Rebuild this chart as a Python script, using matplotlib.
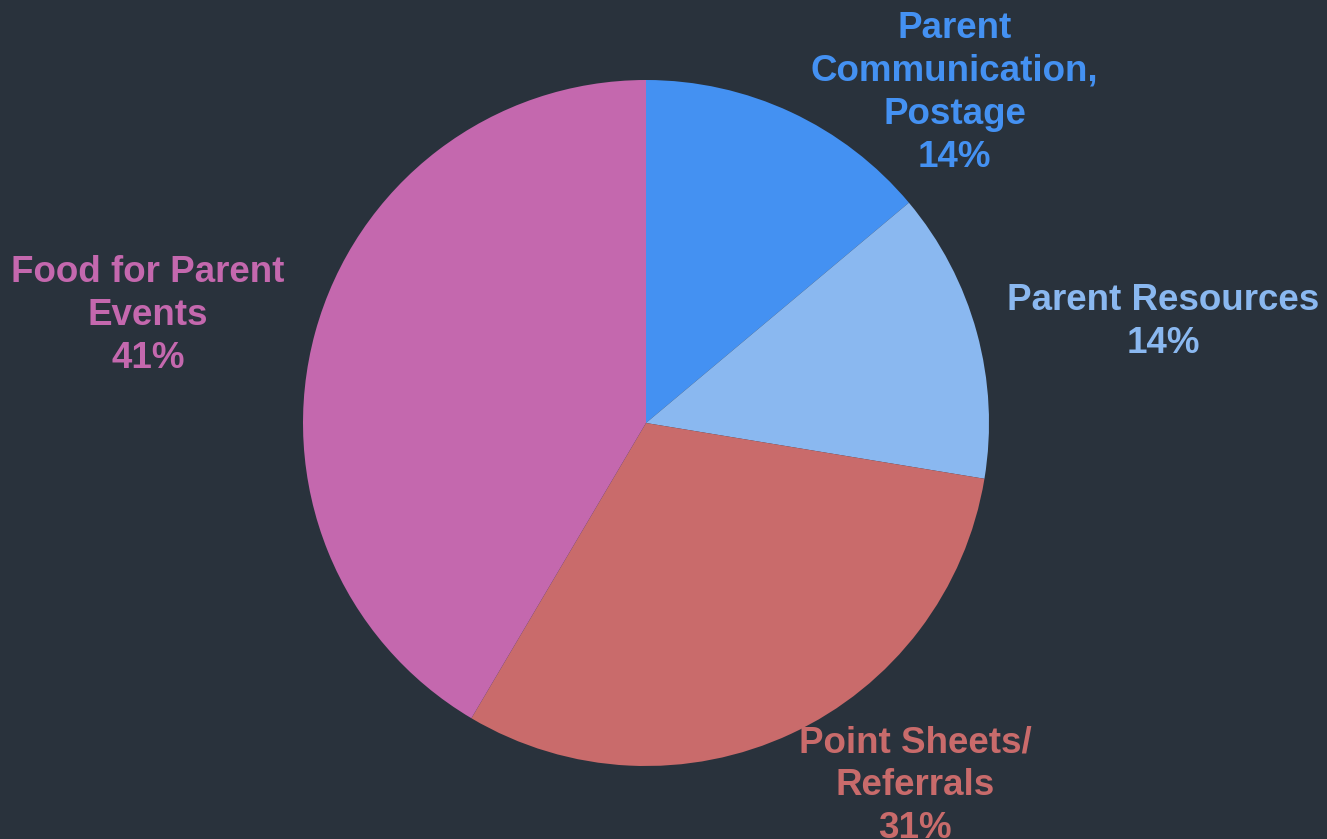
import matplotlib

matplotlib.use("Agg")
import matplotlib.pyplot as plt

# ---- data ----
categories = ["Parent\nCommunication,\nPostage", "Parent Resources",
              "Point Sheets/\nReferrals", "Food for Parent\nEvents"]
shares = [13.9, 13.7, 30.9, 41.5]
pct_labels = ["14%", "14%", "31%", "41%"]

COLORS = ["#4491f2", "#8ab8f0", "#c96b6b", "#c468ae"]
BG = "#29323c"

# label anchor points (data units, pie radius = 1)
LABEL_XY = [(0.90, 0.963), (1.507, 0.295), (0.784, -1.058), (-1.452, 0.313)]

W, H, DPI = 1327, 839, 100
CX, CY, R = 646, 423, 343  # pie centre / radius in pixels

fig = plt.figure(figsize=(W / DPI, H / DPI), dpi=DPI, facecolor=BG)
ax = fig.add_axes([0, 0, 1, 1])
ax.set_facecolor(BG)

ax.pie(shares, colors=COLORS, startangle=90, counterclock=False, radius=1,
       wedgeprops=dict(linewidth=0))

for cat, pct, (x, y), c in zip(categories, pct_labels, LABEL_XY, COLORS):
    ax.text(x, y, f"{cat}\n{pct}", ha="center", va="center", color=c,
            fontsize=26.5, fontweight="bold", family="Liberation Sans",
            linespacing=1.3)

ax.set_xlim(-CX / R, (W - CX) / R)
ax.set_ylim(-(H - CY) / R, CY / R)
ax.set_aspect("equal")
ax.axis("off")

fig.savefig("out.png", dpi=DPI, facecolor=BG)
